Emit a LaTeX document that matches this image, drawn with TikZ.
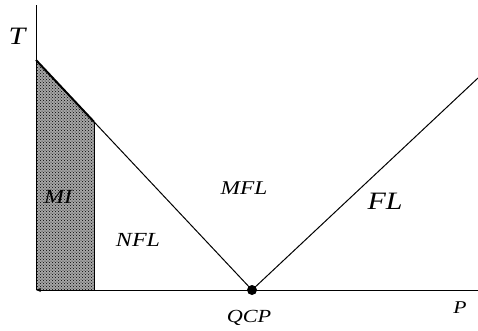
\documentclass[tikz,border=0pt]{standalone}
\usepackage{fontspec}
\setmainfont{Liberation Serif}
\usetikzlibrary{patterns,arrows.meta}
\newcommand{\lblsz}[2]{\scalebox{1.2}[1]{\fontsize{#1}{#1}\selectfont\itshape #2}}
\begin{document}
\begin{tikzpicture}[x=1pt,y=-1pt,
  lbl/.style={inner sep=0pt},
  ln/.style={line width=1pt}]
\useasboundingbox (0,0) rectangle (478,330);
\coordinate (top) at (36,5);
\coordinate (Tc) at (36,60);
\coordinate (O) at (36,290);
\coordinate (Pend) at (478,290);
\coordinate (R) at (478,78);
\coordinate (S) at (94,121.8);
\coordinate (Sb) at (94,290);
\node[circle, fill=black, inner sep=0pt, minimum size=10pt] (qcp) at (252,290) {};
\fill[gray!70] (Tc) -- (S) -- (Sb) -- (O) -- cycle;
\fill[pattern=crosshatch dots, pattern color=black] (Tc) -- (S) -- (Sb) -- (O) -- cycle;
\draw[line width=0.6pt] (S) -- (Sb);
\draw[ln] (top) -- (O);
\draw[ln, {Stealth[length=5pt,width=4pt]}-] (O) -- (Pend);
\draw[line width=2pt] (Tc) -- (S);
\draw[ln] (S) -- (qcp.center);
\draw[ln] (qcp.center) -- (R);
\node[lbl] (T) at (17,36) {\lblsz{25}{T}};
\node[lbl] (MI) at (58,197) {\lblsz{20}{MI}};
\node[lbl] (NFL) at (138,240) {\lblsz{20}{NFL}};
\node[lbl] (MFL) at (244,188) {\lblsz{19.5}{MFL}};
\node[lbl] (FL) at (385,201) {\lblsz{25}{FL}};
\node[lbl] (QCPl) at (249,318) {\lblsz{18.5}{QCP}};
\node[lbl] (P) at (460,308) {\lblsz{18}{P}};
\end{tikzpicture}
\end{document}
